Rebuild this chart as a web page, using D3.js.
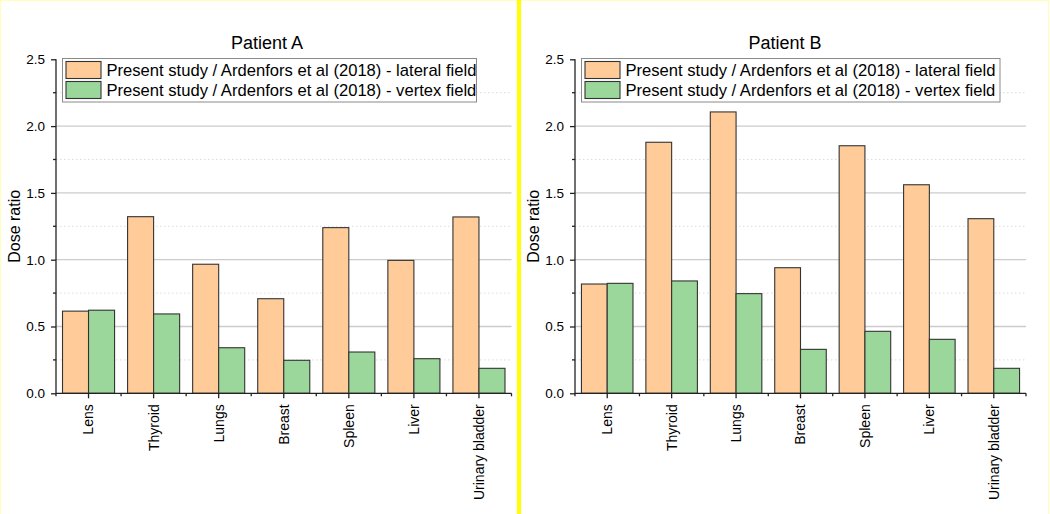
<!DOCTYPE html>
<html>
<head>
<meta charset="utf-8">
<script src="https://cdn.jsdelivr.net/npm/d3@7"></script>
<style>
  html, body { margin: 0; padding: 0; background: #fff; }
  svg { display: block; }
  text { font-family: Arial, "Liberation Sans", sans-serif; fill: #000; }
</style>
</head>
<body>
<svg id="chart" width="1050" height="514"></svg>
<script>
const categories = ["Lens", "Thyroid", "Lungs", "Breast", "Spleen", "Liver", "Urinary bladder"];
const seriesNames = [
  "Present study / Ardenfors et al (2018) - lateral field",
  "Present study / Ardenfors et al (2018) - vertex field"
];
const patientALateral = [0.615, 1.322, 0.966, 0.708, 1.240, 0.995, 1.320];
const patientAVertex  = [0.622, 0.594, 0.341, 0.247, 0.309, 0.259, 0.187];
const patientBLateral = [0.818, 1.879, 2.106, 0.940, 1.853, 1.561, 1.307];
const patientBVertex  = [0.823, 0.841, 0.746, 0.329, 0.464, 0.404, 0.187];
const yTicks = [0.0, 0.5, 1.0, 1.5, 2.0, 2.5];
const yMinorTicks = [0.25, 0.75, 1.25, 1.75, 2.25];
const colors = ["#FFCC99", "#9BD79A"];

const svg = d3.select("#chart");

// frame
svg.append("rect").attr("x", 0.5).attr("y", 0.5).attr("width", 1048).attr("height", 520)
  .attr("fill", "none").attr("stroke", "#ffffb8").attr("stroke-width", 1);
svg.append("rect").attr("x", 517).attr("y", 0).attr("width", 4).attr("height", 514).attr("fill", "#ffff00");

function panel(cfg) {
  const g = svg.append("g");
  const y = d3.scaleLinear().domain([0, 2.5]).range([393.3, 59.3]);
  const x0 = d3.scaleBand().domain(categories).range([cfg.left, cfg.right])
    .paddingInner(0.2).paddingOuter(0.1);
  const x1 = d3.scaleBand().domain([0, 1]).range([0, x0.bandwidth()]);

  // minor grid (dotted)
  g.append("g").selectAll("line").data(yMinorTicks).join("line")
    .attr("x1", cfg.left).attr("x2", cfg.right)
    .attr("y1", d => y(d)).attr("y2", d => y(d))
    .attr("stroke", "#dcdcdc").attr("stroke-width", 1).attr("stroke-dasharray", "1.5,2.5");
  // major grid
  g.append("g").selectAll("line").data(yTicks.filter(d => d > 0 && d < 2.5)).join("line")
    .attr("x1", cfg.left).attr("x2", cfg.right)
    .attr("y1", d => y(d)).attr("y2", d => y(d))
    .attr("stroke", "#cccccc").attr("stroke-width", 1.3);

  // bars
  const data = categories.map((c, i) => ({c, vals: [cfg.lateral[i], cfg.vertex[i]]}));
  const grp = g.append("g").selectAll("g").data(data).join("g")
    .attr("transform", d => `translate(${x0(d.c)},0)`);
  grp.selectAll("rect").data(d => d.vals.map((v, k) => ({v, k}))).join("rect")
    .attr("x", d => x1(d.k)).attr("width", x1.bandwidth())
    .attr("y", d => y(d.v)).attr("height", d => y(0) - y(d.v))
    .attr("fill", d => colors[d.k]).attr("stroke", "#333").attr("stroke-width", 1.1);

  // y axis
  const yAxis = g.append("g").attr("transform", `translate(${cfg.left},0)`)
    .call(d3.axisLeft(y).tickValues(yTicks).tickFormat(d3.format(".1f")).tickSize(5).tickPadding(6));
  yAxis.selectAll(".tick text").attr("font-size", 13.5).attr("fill", "#000");
  yAxis.selectAll("line, path").attr("stroke", "#222").attr("stroke-width", 1.3);
  yAxis.select(".domain").attr("d", `M0,${y(2.5)}V${y(0)}`);
  g.append("g").selectAll("line").data(yMinorTicks).join("line")
    .attr("x1", cfg.left - 3).attr("x2", cfg.left)
    .attr("y1", d => y(d)).attr("y2", d => y(d))
    .attr("stroke", "#222").attr("stroke-width", 1.3);

  // x axis
  const xAxis = g.append("g").attr("transform", `translate(0,${y(0)})`)
    .call(d3.axisBottom(x0).tickSize(5).tickSizeOuter(0));
  xAxis.selectAll("line, path").attr("stroke", "#222").attr("stroke-width", 1.3);
  xAxis.select(".domain").attr("d", `M${cfg.left},0H${cfg.right}`);
  xAxis.selectAll(".tick text")
    .attr("font-size", 14).attr("fill", "#000")
    .attr("text-anchor", "end")
    .attr("transform", "rotate(-90)")
    .attr("x", -11).attr("y", 0).attr("dy", "0.35em");
  // minor ticks at group boundaries
  const step = x0.step();
  const bounds = d3.range(categories.length + 1).map(i => cfg.left + i * step);
  g.append("g").selectAll("line").data(bounds).join("line")
    .attr("x1", d => d).attr("x2", d => d)
    .attr("y1", y(0)).attr("y2", y(0) + 3)
    .attr("stroke", "#222").attr("stroke-width", 1.3);

  // title
  g.append("text").attr("x", cfg.titleX).attr("y", 49).attr("text-anchor", "middle")
    .attr("font-size", 18).text(cfg.title);

  // y label
  g.append("text").attr("transform", `translate(${cfg.ylabelX},${(y(0) + y(2.5)) / 2}) rotate(-90)`)
    .attr("text-anchor", "middle").attr("font-size", 16).text("Dose ratio");

  // legend
  const lg = g.append("g");
  lg.append("rect").attr("x", cfg.legX).attr("y", 58.5).attr("width", cfg.legW).attr("height", 43.5)
    .attr("fill", "#fff").attr("stroke", "#8a8a8a").attr("stroke-width", 1);
  seriesNames.forEach((s, i) => {
    lg.append("rect").attr("x", cfg.legX + 3.5).attr("y", 61.5 + i * 20).attr("width", 35).attr("height", 17)
      .attr("fill", colors[i]).attr("stroke", "#333").attr("stroke-width", 1.1);
    lg.append("text").attr("x", cfg.legX + 44).attr("y", 70 + i * 20).attr("dy", "0.36em")
      .attr("font-size", 16.6).text(s);
  });
}

panel({left: 56, right: 511.5, lateral: patientALateral, vertex: patientAVertex,
  title: "Patient A", titleX: 267, ylabelX: 20, legX: 62.5, legW: 414});
panel({left: 575, right: 1026, lateral: patientBLateral, vertex: patientBVertex,
  title: "Patient B", titleX: 785, ylabelX: 539, legX: 581.5, legW: 418.5});
</script>
</body>
</html>
